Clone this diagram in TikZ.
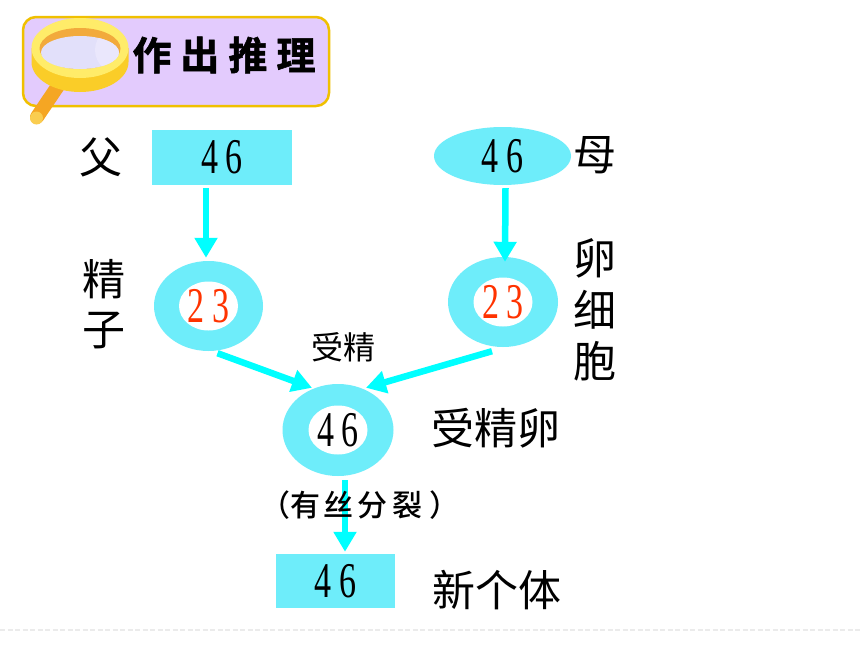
\documentclass[tikz,border=0pt]{standalone}
\usepackage{fontspec}
\usepackage{graphicx}
\setmainfont{Noto Sans CJK SC}
\newfontfamily\numfont{Liberation Serif}
\newfontfamily\titlefont[UprightFont=* Bold,FakeBold=1.5]{Noto Sans CJK SC}
\newfontfamily\midfont[UprightFont=* Medium]{Noto Sans CJK SC}
\usetikzlibrary{shapes.geometric,arrows.meta,calc}
\definecolor{boxc}{HTML}{6EEDFA}
\definecolor{arrc}{HTML}{00FFFF}
\definecolor{numred}{HTML}{FF3300}
\definecolor{badgeline}{HTML}{F0C000}
\definecolor{badgefill}{HTML}{E3CBFD}
\definecolor{handle}{HTML}{F5A623}
\definecolor{handleend}{HTML}{FACD50}
\definecolor{rimlow}{HTML}{FACD28}
\definecolor{rimtop}{HTML}{FFEC69}
\definecolor{lensrim}{HTML}{F2AA3C}
\definecolor{lens}{HTML}{E2E0FA}
\definecolor{lenshi}{HTML}{EAE7FC}
\definecolor{footc}{HTML}{EBEBEB}
\newcommand{\digs}[2]{\scalebox{0.68}[1]{\fontsize{50}{50}\numfont #1\kern11pt #2}}
\tikzset{
  x=1pt,y=-1pt,
  cellbox/.style={rectangle,fill=boxc,inner sep=0pt},
  cellring/.style={ellipse,fill=boxc,inner sep=0pt},
  cellcore/.style={ellipse,fill=white,minimum width=59pt,minimum height=49pt,inner sep=0pt},
  flow/.style={draw=arrc,line width=6.5pt,-{Triangle[width=22pt,length=20pt]}},
  lab/.style={inner sep=0pt,font=\fontsize{43}{43}\selectfont,text=black},
  slab/.style={inner sep=0pt,font=\fontsize{32}{32}\selectfont,text=black},
}
\begin{document}
\begin{tikzpicture}
\useasboundingbox (0,0) rectangle (860,645);
\fill[white] (0,0) rectangle (860,645);
% badge
\draw[draw=badgeline,fill=badgefill,line width=2.5pt,rounded corners=13pt] (23,17) rectangle (329,106);
\draw[draw=handle,line width=14pt,line cap=round] (37,117) -- (62,80);
\fill[handleend] (36.5,118) circle (6.5);
\fill[rimlow] (31.5,48) -- (31.5,62) arc[start angle=180,end angle=0,x radius=48.5,y radius=30] -- (128.5,48) -- cycle;
\fill[rimtop] (80,48) ellipse[x radius=48.5,y radius=30];
\fill[lensrim] (80,48.5) ellipse[x radius=40.5,y radius=20.5];
\begin{scope}
\clip (80,52.5) ellipse[x radius=39,y radius=16.5];
\fill[lens] (40,30) rectangle (122,72);
\fill[lenshi] (125,50) ellipse[x radius=30,y radius=26];
\end{scope}
\node[inner sep=0pt,anchor=center,font=\fontsize{39}{39}\titlefont] (title) at (224,55) {作\kern9pt 出\kern9pt 推\kern9pt 理};
% cells
\node[cellbox,minimum width=140pt,minimum height=55pt] (father) at (222,157.5) {\digs{4}{6}};
\node[cellring,minimum width=137pt,minimum height=58pt] (mother) at (502.5,156) {\digs{4}{6}};
\node[cellring,minimum width=109pt,minimum height=90pt] (sperm) at (208.5,306) {};
\node[cellcore] (spermcore) at (sperm.center) {\color{numred}\digs{2}{3}};
\node[cellring,minimum width=110pt,minimum height=90pt] (egg) at (503,302) {};
\node[cellcore] (eggcore) at (egg.center) {\color{numred}\digs{2}{3}};
\node[cellring,minimum width=111pt,minimum height=92pt] (zygote) at (338,430) {};
\node[cellcore] (zygotecore) at (zygote.center) {\digs{4}{6}};
\node[cellbox,minimum width=119pt,minimum height=54pt] (child) at (335.5,581) {\digs{4}{6}};
% connectors
\draw[flow] ($(father.south)+(-16,3)$) -- ($(sperm.north)+(-2.5,-3)$);
\draw[flow] ($(mother.south)+(3,3)$) -- ($(egg.north)+(2,5)$);
\draw[flow] ($(sperm.south)+(9,2)$) -- ($(zygote.north)+(-26,4)$);
\draw[flow] ($(egg.south)+(-11,4)$) -- ($(zygote.north)+(28,4)$);
\draw[flow] ($(zygote.south)+(7,4)$) -- ($(child.north)+(9.5,-2)$);
% labels
\node[lab] (lfather) at (101,157) {父};
\node[lab] (lmother) at (595,155) {母};
\node[lab] (lsperm1) at (104,279) {精};
\node[lab] (lsperm2) at (104,331) {子};
\node[lab] (legg1) at (595,258) {卵};
\node[lab] (legg2) at (595,310) {细};
\node[lab] (legg3) at (595,361) {胞};
\node[lab] (lzyg) at (495.5,428) {受精卵};
\node[lab] (lchild) at (496.5,590) {新个体};
\node[slab] (lfert) at (343,347) {受精};
\node[inner sep=0pt,font=\fontsize{30}{30}\midfont] (lmit) at (360,505) {（有\kern4pt 丝\kern4pt 分\kern4pt 裂\kern8pt ）};
% foot line
\coordinate (footl) at (0,630);
\coordinate (footr) at (860,630);
\draw[draw=footc,line width=1.5pt,dash pattern=on 5pt off 2.5pt] (footl) -- (footr);
\end{tikzpicture}
\end{document}
